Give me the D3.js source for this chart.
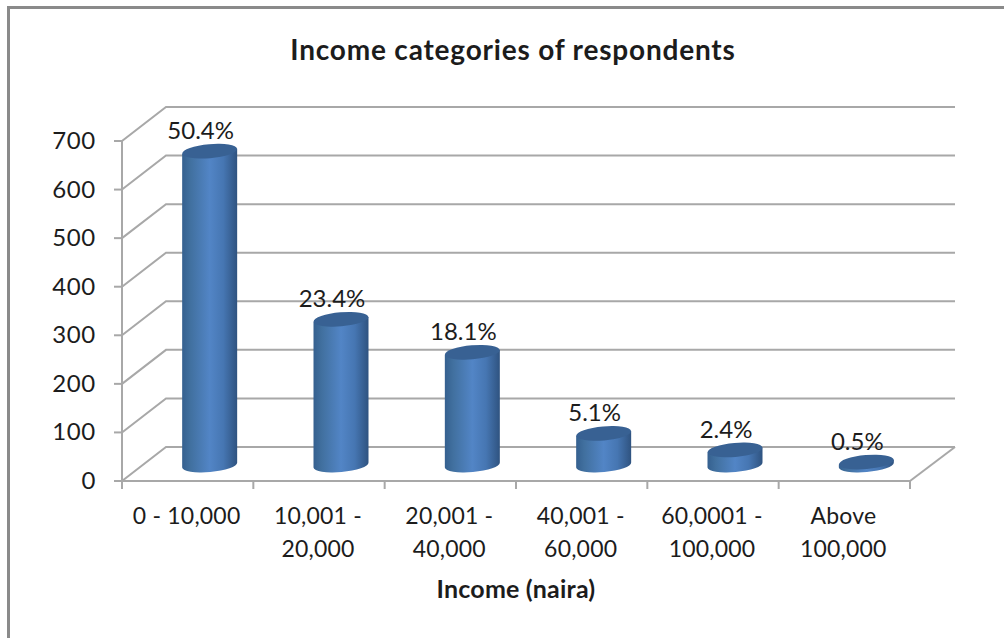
<!DOCTYPE html>
<html><head><meta charset="utf-8">
<script src="https://cdn.jsdelivr.net/npm/d3@7"></script>
<style>html,body{margin:0;padding:0;background:#fff}svg{display:block}text{font-family:Lato,"Open Sans",sans-serif;fill:#1c1c1c}</style>
</head><body><svg id="c" width="1004" height="638"></svg>
<script>
const categories = [["0 - 10,000"],["10,001 -","20,000"],["20,001 -","40,000"],["40,001 -","60,000"],["60,0001 -","100,000"],["Above","100,000"]];
const values = [646, 300, 232, 65, 31, 6];
const shares = ["50.4%","23.4%","18.1%","5.1%","2.4%","0.5%"];
const yTicks = [0,100,200,300,400,500,600,700];
const titleText = "Income categories of respondents";
const xTitle = "Income (naira)";

const svg = d3.select("#c");
const depthX = 44, depthY = 34;
const x = d3.scaleBand().domain(d3.range(categories.length)).range([122,910]);
const y = d3.scaleLinear().domain([0,700]).range([481,141]);
const grey = "#a8a8a8";

const defs = svg.append("defs");
const g = defs.append("linearGradient").attr("id","cyl").attr("x1",0).attr("x2",1).attr("y1",0).attr("y2",0);
[[0,"#35608f"],[0.15,"#41709f"],[0.5,"#5285c6"],[0.75,"#4676b2"],[1,"#2f5380"]].forEach(d=>g.append("stop").attr("offset",d[0]).attr("stop-color",d[1]));

// frame
svg.append("path").attr("d","M8.5,638V7.5H1004").attr("fill","none").attr("stroke","#8a8a8a").attr("stroke-width",3);

// walls
const gl = svg.append("g").attr("fill","none").attr("stroke",grey).attr("stroke-width",2);
yTicks.forEach(t=>{
  gl.append("path").attr("d",d3.line()([[x.range()[0],y(t)],[x.range()[0]+depthX,y(t)-depthY],[x.range()[1]+depthX+1,y(t)-depthY]]));
});
gl.append("path").attr("d",d3.line()([[x.range()[1],y(0)],[x.range()[1]+depthX+1,y(0)-depthY]]));
gl.append("path").attr("d",`M122,${y(700)}V${y(0)}H910`);
yTicks.forEach(t=>gl.append("path").attr("d",`M114,${y(t)}H122`));
d3.range(categories.length+1).forEach(i=>{
  const px = i<categories.length ? x(i) : x.range()[1];
  gl.append("path").attr("d",`M${px},${y(0)}V489`);
});

// y labels
svg.append("g").selectAll("text").data(yTicks).join("text")
  .attr("x",96).attr("y",d=>y(d)+8).attr("text-anchor","end").attr("font-size",24).attr("letter-spacing",0.7).text(d=>d);

// cylinders
const rx = 27.5, ry = 7, tilt = -5, off = 16;
const bars = svg.append("g");
values.forEach((v,i)=>{
  const cx = x(i)+x.bandwidth()/2+depthX/2;
  const yb = y(0)-off, yt = y(v)-off;
  const dy = Math.sin(tilt*Math.PI/180)*rx;
  const a = bars.append("g");
  a.append("path").attr("fill","url(#cyl)")
    .attr("d",`M${cx-rx},${yt-dy}L${cx+rx},${yt+dy}L${cx+rx},${yb+dy}A${rx},${ry} ${tilt} 0 1 ${cx-rx},${yb-dy}Z`);
  a.append("ellipse").attr("rx",rx).attr("ry",ry).attr("fill","#386193")
    .attr("transform",`translate(${cx},${yt}) rotate(${tilt})`);
  svg.append("text").attr("x",cx-9).attr("y",yt-12).attr("text-anchor","middle").attr("font-size",24).text(shares[i]);
});

// x labels
categories.forEach((c,i)=>{
  c.forEach((s,j)=>svg.append("text").attr("x",x(i)+x.bandwidth()/2-1).attr("y",524+j*33)
    .attr("text-anchor","middle").attr("font-size",23).attr("letter-spacing",0.2).text(s));
});
svg.append("text").attr("x",513).attr("y",60).attr("text-anchor","middle").attr("font-size",28).attr("font-weight",700).attr("letter-spacing",0.8).text(titleText);
svg.append("text").attr("x",516).attr("y",598).attr("text-anchor","middle").attr("font-size",25).attr("font-weight",700).attr("letter-spacing",0.2).text(xTitle);
</script></body></html>
